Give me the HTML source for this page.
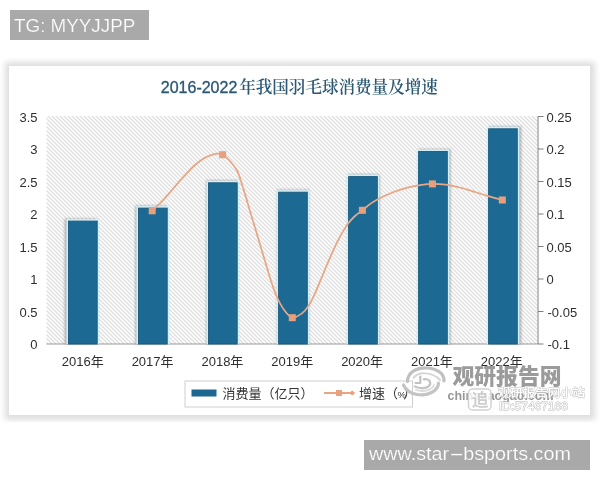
<!DOCTYPE html>
<html lang="zh-CN">
<head>
<meta charset="utf-8">
<title>2016-2022年我国羽毛球消费量及增速</title>
<style>
html,body{margin:0;padding:0;background:#fff;}
body{width:600px;height:480px;position:relative;overflow:hidden;font-family:"Liberation Sans","Noto Sans CJK SC",sans-serif;}
.tag{position:absolute;background:#a9a9a9;color:#fff;font-size:18px;line-height:30px;height:30px;white-space:nowrap;box-sizing:border-box;-webkit-font-smoothing:antialiased;}
.tag span.t{display:inline-block;transform-origin:0 50%;}
#tg{left:10px;top:10px;width:139px;padding-left:4.3px;line-height:32px;}
#tg .t{transform:scaleX(1.012);font-size:18.6px;-webkit-text-stroke:0.2px #a9a9a9;}
#url{left:364px;top:440px;width:226px;padding-left:5px;line-height:28px;}
#url .t{transform:scaleX(1.04);font-size:19px;-webkit-text-stroke:0.2px #a9a9a9;}
#url .dash{display:inline-block;transform:scaleX(2.3);margin:0 3.6px;}
.frame{position:absolute;left:0;top:57.6px;width:600px;height:364px;overflow:hidden;}
.card{position:absolute;left:8.6px;top:8.8px;width:581.2px;height:348.3px;background:#fff;box-shadow:0 0 6px 4.5px rgba(0,0,0,0.135);}
.chart{position:absolute;left:0;top:0;}
.chart text{font-family:"Liberation Sans","Noto Sans CJK SC",sans-serif;}
.ax text{font-size:13px;fill:#2e2e2e;}
.lg{font-size:13px;fill:#333;}
.chart text.title{fill:#2c5874;}
.chart .tn{font-family:"Liberation Sans",sans-serif;font-size:16.2px;stroke:#2c5874;stroke-width:0.35px;}
.chart .tc{font-family:"Liberation Serif","Noto Serif CJK SC",serif;font-size:16.6px;font-weight:600;}
.wm text{font-family:"Liberation Sans","Noto Sans CJK SC",sans-serif;}
</style>
</head>
<body>
<div class="frame"><div class="card"></div></div>
<svg class="chart" width="600" height="480" viewBox="0 0 600 480">
<defs>
<pattern id="hatch" width="4" height="4" patternUnits="userSpaceOnUse">
<rect width="4" height="4" fill="#fdfdfd"/>
<path d="M-1 -1L5 5M-1 3L1 5M3 -1L5 1" stroke="#dcdcdc" stroke-width="1.15"/>
</pattern>
<filter id="bsh" x="-30%" y="-10%" width="160%" height="120%"><feGaussianBlur stdDeviation="1.3"/></filter>
<filter id="soft" x="-5%" y="-5%" width="110%" height="110%"><feGaussianBlur stdDeviation="0.45"/></filter>
<filter id="soft2" x="-5%" y="-20%" width="110%" height="140%"><feGaussianBlur stdDeviation="0.6"/></filter>
</defs>
<rect x="46.5" y="116" width="490.5" height="228" fill="url(#hatch)"/>
<path d="M46.5 344H538" stroke="#9a9a9a" stroke-width="1.2" fill="none"/>
<g filter="url(#soft)">
<rect x="64.6" y="218.7" width="32.0" height="125.3" fill="#6e6e6e" opacity="0.5" filter="url(#bsh)"/>
<rect x="66.4" y="219.1" width="32.8" height="124.9" fill="#d3eef6"/>
<rect x="68.5" y="221.1" width="28.7" height="122.9" fill="#1e6a93" stroke="#18587d" stroke-width="0.9"/>
<rect x="135.3" y="205.7" width="32.0" height="138.3" fill="#6e6e6e" opacity="0.5" filter="url(#bsh)"/>
<rect x="136.4" y="206.1" width="32.8" height="137.9" fill="#d3eef6"/>
<rect x="138.5" y="208.1" width="28.7" height="135.9" fill="#1e6a93" stroke="#18587d" stroke-width="0.9"/>
<rect x="206.1" y="180.3" width="32.0" height="163.7" fill="#6e6e6e" opacity="0.5" filter="url(#bsh)"/>
<rect x="206.5" y="180.7" width="32.8" height="163.3" fill="#d3eef6"/>
<rect x="208.5" y="182.8" width="28.7" height="161.2" fill="#1e6a93" stroke="#18587d" stroke-width="0.9"/>
<rect x="276.9" y="189.8" width="32.0" height="154.2" fill="#6e6e6e" opacity="0.5" filter="url(#bsh)"/>
<rect x="276.5" y="190.2" width="32.8" height="153.8" fill="#d3eef6"/>
<rect x="278.6" y="192.2" width="28.7" height="151.8" fill="#1e6a93" stroke="#18587d" stroke-width="0.9"/>
<rect x="347.7" y="174.2" width="32.0" height="169.8" fill="#6e6e6e" opacity="0.5" filter="url(#bsh)"/>
<rect x="346.5" y="174.6" width="32.8" height="169.4" fill="#d3eef6"/>
<rect x="348.6" y="176.6" width="28.7" height="167.4" fill="#1e6a93" stroke="#18587d" stroke-width="0.9"/>
<rect x="418.5" y="149.1" width="32.0" height="194.9" fill="#6e6e6e" opacity="0.5" filter="url(#bsh)"/>
<rect x="416.6" y="149.5" width="32.8" height="194.5" fill="#d3eef6"/>
<rect x="418.6" y="151.5" width="28.7" height="192.5" fill="#1e6a93" stroke="#18587d" stroke-width="0.9"/>
<rect x="489.2" y="126.3" width="32.0" height="217.7" fill="#6e6e6e" opacity="0.5" filter="url(#bsh)"/>
<rect x="486.6" y="126.7" width="32.8" height="217.3" fill="#d3eef6"/>
<rect x="488.6" y="128.8" width="28.7" height="215.2" fill="#1e6a93" stroke="#18587d" stroke-width="0.9"/>
</g>
<path d="M538 116.5V344M538 116.5H543.5M538 149.0H543.5M538 181.5H543.5M538 214.0H543.5M538 246.5H543.5M538 279.0H543.5M538 311.5H543.5M538 344.0H543.5" stroke="#707070" stroke-width="0.9" fill="none"/>
<g filter="url(#soft)">
<path d="M152.2 210.8C153.8 209.3 158.7 204.8 161.7 201.7C164.7 198.6 167.2 195.5 170.0 192.3C172.8 189.1 175.5 185.8 178.3 182.6C181.1 179.4 183.9 176.2 186.7 173.3C189.5 170.4 192.2 167.4 195.0 165.0C197.8 162.6 200.5 160.4 203.3 158.7C206.1 157.0 209.2 155.8 211.7 154.9C214.1 154.1 216.2 153.6 218.0 153.6C219.8 153.6 220.6 153.5 222.6 154.7C224.6 155.9 227.5 158.2 230.0 161.0C232.5 163.8 235.3 167.0 237.5 171.5C239.7 176.0 241.2 182.2 243.1 188.1C245.0 194.0 246.9 200.7 248.8 206.9C250.6 213.2 252.5 219.3 254.4 225.6C256.3 231.8 258.1 238.2 260.0 244.4C261.9 250.7 263.7 256.9 265.6 263.1C267.5 269.3 269.4 275.9 271.2 281.5C273.1 287.1 274.7 292.2 276.9 297.0C279.1 301.8 281.8 306.9 284.4 310.3C287.0 313.8 289.4 317.1 292.3 317.7C295.2 318.2 299.0 315.5 301.7 313.6C304.4 311.7 306.1 309.7 308.3 306.3C310.5 302.9 312.8 298.1 315.0 293.3C317.2 288.5 319.5 282.8 321.7 277.5C323.9 272.2 326.1 266.8 328.3 261.7C330.5 256.6 332.8 251.4 335.0 246.7C337.2 242.0 339.5 237.5 341.7 233.6C343.9 229.7 346.1 226.2 348.3 223.3C350.5 220.4 352.6 218.2 355.0 216.0C357.4 213.8 359.7 212.4 362.4 210.3C365.1 208.2 367.8 205.6 371.0 203.4C374.2 201.2 377.7 199.3 381.7 197.3C385.7 195.3 390.6 193.2 395.0 191.5C399.4 189.8 403.9 188.4 408.3 187.3C412.8 186.2 417.7 185.4 421.7 184.8C425.7 184.2 428.4 183.9 432.4 183.9C436.4 183.9 440.8 184.0 445.7 184.7C450.6 185.4 456.8 186.8 461.7 188.0C466.6 189.2 470.6 190.6 475.0 192.0C479.4 193.4 483.8 194.9 488.3 196.2C492.9 197.5 500.0 199.4 502.3 200.0" stroke="#e8a685" stroke-width="1.75" fill="none" stroke-linecap="round"/>
<rect x="148.7" y="207.3" width="7" height="7" fill="#e8a07c"/>
<rect x="219.1" y="151.2" width="7" height="7" fill="#e8a07c"/>
<rect x="288.8" y="314.2" width="7" height="7" fill="#e8a07c"/>
<rect x="358.9" y="206.8" width="7" height="7" fill="#e8a07c"/>
<rect x="428.9" y="180.4" width="7" height="7" fill="#e8a07c"/>
<rect x="498.8" y="196.5" width="7" height="7" fill="#e8a07c"/>
</g>
<g class="ax" text-anchor="end">
<text x="37.5" y="121.8">3.5</text>
<text x="37.5" y="154.3">3</text>
<text x="37.5" y="186.8">2.5</text>
<text x="37.5" y="219.3">2</text>
<text x="37.5" y="251.8">1.5</text>
<text x="37.5" y="284.3">1</text>
<text x="37.5" y="316.8">0.5</text>
<text x="37.5" y="349.3">0</text>
</g>
<g class="ax">
<text x="546.5" y="121.8">0.25</text>
<text x="546.5" y="154.3">0.2</text>
<text x="546.5" y="186.8">0.15</text>
<text x="546.5" y="219.3">0.1</text>
<text x="546.5" y="251.8">0.05</text>
<text x="546.5" y="284.3">0</text>
<text x="547.5" y="316.8">-0.05</text>
<text x="547.5" y="349.3">-0.1</text>
</g>
<g class="ax" text-anchor="middle">
<text x="82.7" y="365.6">2016年</text>
<text x="152.6" y="365.6">2017年</text>
<text x="222.4" y="365.6">2018年</text>
<text x="292.2" y="365.6">2019年</text>
<text x="362.1" y="365.6">2020年</text>
<text x="431.9" y="365.6">2021年</text>
<text x="501.8" y="365.6">2022年</text>
</g>
<text class="title" y="92.5"><tspan class="tn" dy="0.5" x="160.8" textLength="76.5" lengthAdjust="spacingAndGlyphs">2016-2022</tspan><tspan class="tc" dy="-0.5" x="239.2" textLength="198.6" lengthAdjust="spacing">年我国羽毛球消费量及增速</tspan></text>
<rect x="185" y="381" width="227.5" height="26" fill="#fff" stroke="#cfcfcf" stroke-width="1"/>
<rect x="191.5" y="389.5" width="25" height="7" fill="#1d6890"/>
<text class="lg" x="222.5" y="397.8">消费量（亿只）</text>
<g filter="url(#soft)"><path d="M324 393H354" stroke="#e9a583" stroke-width="2"/><rect x="336" y="390" width="6" height="6" fill="#e9a07b"/><path d="M349 393l3.2-2.6 3 2.6-3 2.6z" fill="#e9a07b"/></g>
<text class="lg" x="359" y="397.8">增速（<tspan font-size="9.5" dx="-0.6">%</tspan><tspan dx="-2.5">）</tspan></text>
<g class="wm" filter="url(#soft2)">
<g fill="none" stroke-linecap="round">
<path d="M407.5 381.5C407.5 372 418 366.8 428 368C437 369 444.5 373.5 444 381" stroke="#c0c0c0" stroke-width="3.2"/>
<path d="M413.5 378C418 371.5 432 371.5 440 380" stroke="#d6d6d6" stroke-width="2"/>
<path d="M438.5 383C438.5 391 427 396.5 417 394.5C410 393.2 405.5 389.5 403.5 385" stroke="#c4c4c4" stroke-width="3.2"/>
<path d="M434 385C432 390 424 392.5 416 390" stroke="#dadada" stroke-width="1.8"/>
<path d="M420.3 376.5V383H415.5" stroke="#c2c2c2" stroke-width="2.2" stroke-linejoin="round"/>
<path d="M424 379.3C429.5 378.3 432 383 428.5 386.5C425 389 419 388.5 415 386.5" stroke="#c6c6c6" stroke-width="2.4"/>
</g>
<text x="452.5" y="383.5" font-size="21.8" font-weight="900" fill="#9b9b9b" textLength="109" lengthAdjust="spacingAndGlyphs">观研报告网</text>
<text x="447.5" y="399.6" font-size="12.5" font-weight="700" fill="#979797" textLength="106" lengthAdjust="spacingAndGlyphs">chinabaogao.com</text>
<rect x="468.5" y="389" width="22.5" height="21" rx="4" fill="#fff" fill-opacity="0.8" stroke="#d2d2d2" stroke-width="1.5"/>
<text x="471.5" y="406" font-size="17" font-weight="700" fill="#cfcfcf">追</text>
<text x="498" y="396.5" font-size="11.5" font-weight="500" fill="#fff" stroke="#bcbcbc" stroke-width="0.8" paint-order="stroke" textLength="87" lengthAdjust="spacingAndGlyphs">观研报告网小站</text>
<text x="499" y="409.6" font-size="11.8" fill="#fff" stroke="#b4b4b4" stroke-width="0.9" paint-order="stroke" textLength="69" lengthAdjust="spacingAndGlyphs">ID:57467168</text>
</g>
</svg>
<div class="tag" id="tg"><span class="t">TG: MYYJJPP</span></div>
<div class="tag" id="url"><span class="t">www.star<span class="dash">-</span>bsports.com</span></div>
</body>
</html>
